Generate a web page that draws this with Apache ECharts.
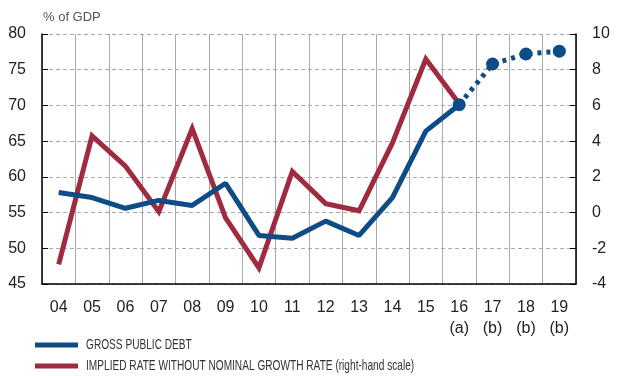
<!DOCTYPE html>
<html>
<head>
<meta charset="utf-8">
<script src="https://cdn.jsdelivr.net/npm/echarts@6/dist/echarts.min.js"></script>
<style>
  html, body { margin: 0; padding: 0; background: #fff; }
  #chart { width: 624px; height: 376px; }
</style>
</head>
<body>
<div id="chart"></div>
<script>
// Years shown on the category axis (second line marks estimates/forecasts)
var years = ['04', '05', '06', '07', '08', '09', '10', '11', '12', '13', '14', '15', '16', '17', '18', '19'];
var yearNotes = ['', '', '', '', '', '', '', '', '', '', '', '', '(a)', '(b)', '(b)', '(b)'];

// Gross public debt, % of GDP (left scale); 16 onward is the projected stretch
var debtActual = [57.8, 57.1, 55.6, 56.7, 56.0, 59.1, 51.8, 51.4, 53.8, 51.8, 57.1, 66.4, 70.1, null, null, null];
var debtProjected = [null, null, null, null, null, null, null, null, null, null, null, null, 70.1, 75.8, 77.2, 77.6];

// Implied rate minus nominal growth rate (right scale)
var impliedRate = [-2.9, 4.3, 2.6, 0.05, 4.7, -0.3, -3.1, 2.3, 0.5, 0.1, 3.9, 8.6, 6.1, null, null, null];

// Axis tick values
var leftTicks = { min: 45, max: 80, step: 5 };
var rightTicks = { min: -4, max: 10, step: 2 };

// Legend entries
var legendItems = [
  { label: 'GROSS PUBLIC DEBT', color: '#0e4c86' },
  { label: 'IMPLIED RATE WITHOUT NOMINAL GROWTH RATE (right-hand scale)', color: '#a02a3f' }
];

var BLUE = legendItems[0].color;
var RED = legendItems[1].color;
var FONT = 'Liberation Sans, Arial, sans-serif';

// Legend drawn as swatch + horizontally condensed text
var legendGraphics = [];
legendItems.forEach(function (item, i) {
  var cy = 345 + i * 21;
  legendGraphics.push({
    type: 'rect', shape: { x: 35, y: cy - 2.5, width: 43, height: 5 },
    style: { fill: item.color }
  });
  legendGraphics.push({
    type: 'text', x: 86, y: cy, scaleX: 0.675,
    style: { text: item.label, fontSize: 15, fill: '#333', fontFamily: FONT, textVerticalAlign: 'middle' }
  });
});

var chart = echarts.init(document.getElementById('chart'), null, { renderer: 'canvas' });

chart.setOption({
  animation: false,
  textStyle: { fontFamily: FONT },
  grid: { left: 42, right: 48, top: 34, bottom: 92 },
  graphic: [{
    type: 'text', left: 43, top: 11,
    style: { text: '% of GDP', fontSize: 13, fill: '#555', fontFamily: FONT }
  }].concat(legendGraphics),
  xAxis: {
    type: 'category',
    data: years,
    boundaryGap: true,
    axisLine: { onZero: false, lineStyle: { color: '#000', width: 1.5 } },
    axisTick: { inside: true, length: 6, lineStyle: { color: '#000' } },
    axisLabel: {
      fontSize: 16, color: '#222', margin: 13, lineHeight: 21,
      formatter: function (v, i) { return yearNotes[i] ? v + '\n' + yearNotes[i] : v; }
    },
    splitLine: { show: true, lineStyle: { color: '#a8a8a8', width: 1 } }
  },
  yAxis: [{
    type: 'value',
    min: leftTicks.min, max: leftTicks.max, interval: leftTicks.step,
    axisLine: { show: true, lineStyle: { color: '#000', width: 1.5 } },
    axisTick: { show: true, inside: true, length: 6, lineStyle: { color: '#000' } },
    axisLabel: { fontSize: 16, color: '#222', margin: 16 },
    splitLine: { show: true, lineStyle: { color: '#aaa', type: [4, 3], width: 1 } }
  }, {
    type: 'value',
    min: rightTicks.min, max: rightTicks.max, interval: rightTicks.step,
    axisLine: { show: true, lineStyle: { color: '#000', width: 1.5 } },
    axisTick: { show: true, inside: true, length: 6, lineStyle: { color: '#000' } },
    axisLabel: { fontSize: 16, color: '#222', margin: 16 },
    splitLine: { show: false }
  }],
  series: [{
    name: 'IMPLIED RATE WITHOUT NOMINAL GROWTH RATE',
    type: 'line',
    yAxisIndex: 1,
    data: impliedRate,
    symbol: 'none',
    z: 2,
    lineStyle: { color: RED, width: 5, join: 'miter' },
    itemStyle: { color: RED }
  }, {
    name: 'GROSS PUBLIC DEBT',
    type: 'line',
    yAxisIndex: 0,
    data: debtActual,
    symbol: 'none',
    z: 3,
    lineStyle: { color: BLUE, width: 5 },
    itemStyle: { color: BLUE }
  }, {
    name: 'GROSS PUBLIC DEBT (projection)',
    type: 'line',
    yAxisIndex: 0,
    data: debtProjected,
    symbol: 'circle',
    symbolSize: 13,
    showAllSymbol: true,
    z: 4,
    lineStyle: { color: BLUE, width: 5, type: [4, 5] },
    itemStyle: { color: BLUE }
  }]
});
</script>
</body>
</html>
